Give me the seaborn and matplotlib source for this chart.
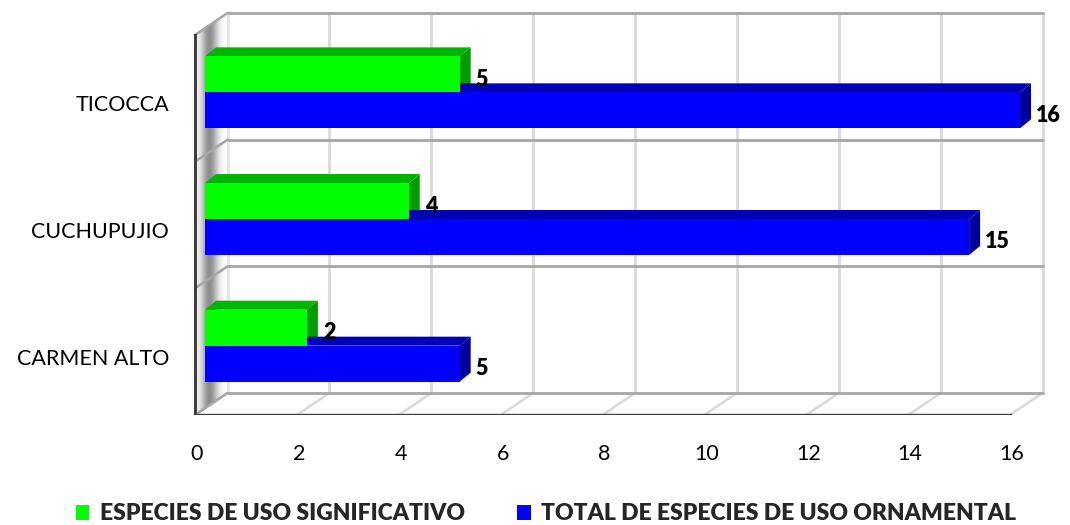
import numpy as np
import pandas as pd
import matplotlib
matplotlib.use("Agg")
import matplotlib.pyplot as plt
from matplotlib.patches import Polygon, Patch
from matplotlib.transforms import ScaledTranslation
import seaborn as sns

# Data
categorias = ["TICOCCA", "CUCHUPUJIO", "CARMEN ALTO"]
series = ["ESPECIES DE USO SIGNIFICATIVO", "TOTAL DE ESPECIES DE USO ORNAMENTAL"]
uso_significativo = [5, 4, 2]
total_ornamental = [16, 15, 5]
x_ticks = [0, 2, 4, 6, 8, 10, 12, 14, 16]

df = pd.DataFrame({
    "categoria": categorias * 2,
    "serie": [series[0]] * 3 + [series[1]] * 3,
    "valor": uso_significativo + total_ornamental,
})

front = {series[0]: "#00ff00", series[1]: "#0000ff"}
top = {series[0]: "#00b400", series[1]: "#0000b4"}
side = {series[0]: "#009c00", series[1]: "#00009c"}

sns.set_theme(style="white")
plt.rcParams["font.family"] = ["Lato", "DejaVu Sans"]

W, H, DPI = 1070, 525, 100
fig = plt.figure(figsize=(W / DPI, H / DPI), dpi=DPI)
fig.patch.set_facecolor("white")

# axes frame in pixels
ax_l, ax_r, ax_t, ax_b = 185, 1050, 5, 415
ax = fig.add_axes([ax_l / W, (H - ax_b) / H, (ax_r - ax_l) / W, (ax_b - ax_t) / H])

px_x = 50.94    # pixels per unit of value
px_c = 126.67   # pixels per category
x0_px = 195
xlim = ((ax_l - x0_px) / px_x, (ax_r - x0_px) / px_x)
ylim = (2.5, -0.5 - (35 - ax_t) / px_c)

# depth of the back wall and of the bars, in data units
bx, by = 32.5 / px_x, -22 / px_c
ddx, ddy = 11 / px_x, -9 / px_c

sns.barplot(data=df, x="valor", y="categoria", hue="serie", order=categorias,
            hue_order=series, orient="h", width=0.568, palette=front,
            linewidth=0, saturation=1, ax=ax, legend=False, zorder=3)

# bars sit slightly behind the front plane
shift = ax.transData + ScaledTranslation(10 / DPI, 6 / DPI, fig.dpi_scale_trans)

n = len(categorias)
lo, hi = -0.5, n - 0.5
grid_c = "#d9d9d9"
edge_c = "#a6a6a6"

# back wall: vertical gridlines
for t in x_ticks:
    ax.plot([t + bx, t + bx], [lo + by, hi + by], color=grid_c, lw=2, zorder=1)
    # floor diagonals
    ax.plot([t, t + bx], [hi, hi + by], color=grid_c, lw=1.8, zorder=1)
# back wall: category boundaries and left-wall diagonals
for b in np.arange(lo, hi + 1):
    ax.plot([bx, x_ticks[-1] + bx], [b + by, b + by], color=edge_c, lw=2, zorder=1.2)
    ax.plot([0, bx], [b, b + by], color=edge_c, lw=1.8, zorder=1.2)
ax.plot([bx, bx], [lo + by, hi + by], color="#e6e6e6", lw=2, zorder=1.1)

# left wall shading
wall = Polygon([(0, lo), (bx, lo + by), (bx, hi + by), (0, hi)], closed=True,
               facecolor="none", edgecolor="none", transform=ax.transData)
ax.add_patch(wall)
xs = np.linspace(0, bx, 120)
alpha = 0.45 * np.exp(-0.5 * ((xs - 0.28) / 0.115) ** 2)
img = np.zeros((2, xs.size, 4))
img[..., 3] = alpha
im = ax.imshow(img, extent=(0, bx, hi, lo + by), aspect="auto",
               interpolation="bilinear", zorder=1.05)
im.set_clip_path(wall)

# front edges
ax.plot([0, 0], [lo, hi], color="#404040", lw=2.2, zorder=2, solid_capstyle="projecting")
ax.plot([0, x_ticks[-1]], [hi, hi], color="#404040", lw=2.4, zorder=2, solid_capstyle="projecting")

# extrude the bars and label their values
for cont, s in zip(ax.containers, series):
    for rect, val in zip(cont.patches, df.loc[df.serie == s, "valor"]):
        rect.set_transform(shift)
        x0 = rect.get_x()
        x1 = x0 + rect.get_width()
        y0 = rect.get_y()
        y1 = y0 + rect.get_height()
        ax.add_patch(Polygon([(x0, y0), (x1, y0), (x1 + ddx, y0 + ddy), (x0 + ddx, y0 + ddy)],
                             closed=True, facecolor=top[s], edgecolor="none",
                             transform=shift, zorder=2.9))
        ax.add_patch(Polygon([(x1, y0), (x1 + ddx, y0 + ddy), (x1 + ddx, y1 + ddy), (x1, y1)],
                             closed=True, facecolor=side[s], edgecolor="none",
                             transform=shift, zorder=2.9))
        ax.annotate(f"{val:g}", xy=(val, (y0 + y1) / 2), xytext=(26, 1),
                    textcoords="offset pixels", ha="left", va="center",
                    fontsize=15.5, fontweight="heavy", color="black", zorder=5)

ax.set_xlim(*xlim)
ax.set_ylim(*ylim)
ax.set_xticks(x_ticks)
ax.set_xticklabels([str(t) for t in x_ticks])
ax.set_xlabel("")
ax.set_ylabel("")
for sp in ax.spines.values():
    sp.set_visible(False)
ax.tick_params(axis="x", length=0, pad=21, labelsize=15.5, labelcolor="black")
ax.tick_params(axis="y", length=0, pad=11.5, labelsize=15.5, labelcolor="black")
for lab in ax.get_xticklabels():
    lab.set_transform(lab.get_transform() + ScaledTranslation(2 / DPI, 0, fig.dpi_scale_trans))
for lab in ax.get_yticklabels():
    lab.set_transform(lab.get_transform() + ScaledTranslation(0, -5 / DPI, fig.dpi_scale_trans))
ax.set_facecolor("white")

handles = [Patch(facecolor=front[s], edgecolor="none") for s in series]
fig.legend(handles, series, loc="center", bbox_to_anchor=(546 / W, (H - 514) / H),
           ncol=2, frameon=False, handlelength=0.58, handleheight=0.58,
           handletextpad=0.45, columnspacing=2.3,
           prop={"weight": "heavy", "size": 16.5})

fig.savefig("out.png", dpi=DPI)
